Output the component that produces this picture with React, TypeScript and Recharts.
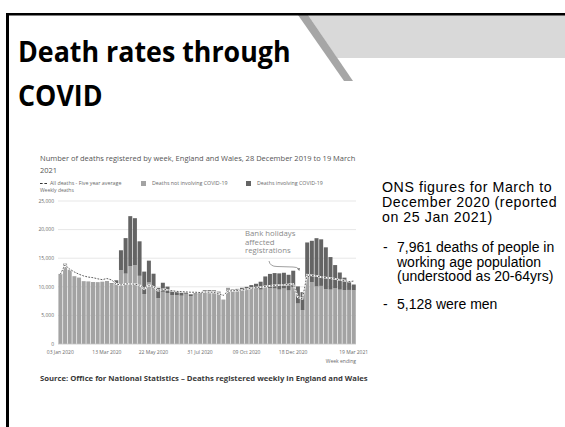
import React from "react";
import {
  ComposedChart,
  Bar,
  Line,
  XAxis,
  YAxis,
  CartesianGrid,
} from "recharts";

// week ending dates, 03 Jan 2020 to 19 Mar 2021
const weeks = [
  "03 Jan 2020", "10 Jan 2020", "17 Jan 2020", "24 Jan 2020", "31 Jan 2020",
  "07 Feb 2020", "14 Feb 2020", "21 Feb 2020", "28 Feb 2020",
  "06 Mar 2020", "13 Mar 2020", "20 Mar 2020", "27 Mar 2020",
  "03 Apr 2020", "10 Apr 2020", "17 Apr 2020", "24 Apr 2020",
  "01 May 2020", "08 May 2020", "15 May 2020", "22 May 2020", "29 May 2020",
  "05 Jun 2020", "12 Jun 2020", "19 Jun 2020", "26 Jun 2020",
  "03 Jul 2020", "10 Jul 2020", "17 Jul 2020", "24 Jul 2020", "31 Jul 2020",
  "07 Aug 2020", "14 Aug 2020", "21 Aug 2020", "28 Aug 2020",
  "04 Sep 2020", "11 Sep 2020", "18 Sep 2020", "25 Sep 2020",
  "02 Oct 2020", "09 Oct 2020", "16 Oct 2020", "23 Oct 2020", "30 Oct 2020",
  "06 Nov 2020", "13 Nov 2020", "20 Nov 2020", "27 Nov 2020",
  "04 Dec 2020", "11 Dec 2020", "18 Dec 2020", "25 Dec 2020",
  "01 Jan 2021", "08 Jan 2021", "15 Jan 2021", "22 Jan 2021", "29 Jan 2021",
  "05 Feb 2021", "12 Feb 2021", "19 Feb 2021", "26 Feb 2021",
  "05 Mar 2021", "12 Mar 2021", "19 Mar 2021",
];

const allDeaths = [
  12254, 14058, 12990, 11856, 11612, 10986, 10944, 10841, 10816, 10895,
  11019, 10645, 11141, 16387, 18516, 22351, 21997, 17953, 12657, 14573,
  12288, 9824, 10709, 10031, 9339, 9140, 8979, 9140, 8690, 8891,
  8946, 9392, 9413, 9380, 9150, 7739, 9811, 9523, 9634, 9828,
  9990, 10300, 10534, 10889, 11812, 12254, 12400, 12347, 12456, 12100,
  12812, 10069, 9069, 17751, 18042, 18500, 18300, 16900, 15200, 13800,
  12500, 11600, 10950, 10400,
];

const covidDeaths = [
  0, 0, 0, 0, 0, 0, 0, 0, 0, 0,
  5, 103, 539, 3475, 6213, 8758, 8237, 6035, 3930, 3810,
  2589, 1822, 1588, 1114, 783, 606, 532, 366, 295, 217,
  193, 152, 139, 138, 101, 78, 99, 139, 215, 321,
  438, 670, 978, 1379, 1937, 2466, 2697, 2835, 2756, 2739,
  2839, 2986, 3144, 6057, 7245, 8433, 8143, 7320, 5691, 4079,
  3000, 2200, 1500, 1000,
];

const fiveYearAverage = [
  12175, 13822, 13100, 12600, 12200, 11900, 11700, 11600, 11400, 11250,
  11450, 11200, 10500, 10305, 10520, 10497, 10458, 10300, 9600, 10300,
  10000, 9300, 9600, 9450, 9300, 9200, 9150, 9100, 9050, 9050,
  9000, 9100, 9050, 9050, 8800, 8500, 9250, 9300, 9350, 9450,
  9600, 9750, 9850, 9950, 10050, 10150, 10250, 10300, 10350, 10400,
  10500, 8200, 7900, 12100, 12000, 11900, 11700, 11600, 11500, 11400,
  11200, 11100, 10900, 11000,
];

const xTicks = [
  "03 Jan 2020", "13 Mar 2020", "22 May 2020", "31 Jul 2020",
  "09 Oct 2020", "18 Dec 2020", "19 Mar 2021",
];
const yTicks = [0, 5000, 10000, 15000, 20000, 25000];

const data = weeks.map((week, i) => ({
  week,
  nonCovid: allDeaths[i] - covidDeaths[i],
  covid: covidDeaths[i],
  average: fiveYearAverage[i],
}));

const LIGHT = "#a3a3a3";
const DARK = "#646464";
const chartFont = "'Open Sans', sans-serif";
const tickStyle = { fontSize: 5, fill: "#6a6a6a", fontFamily: chartFont };

const abs = (left: number, top: number, extra: React.CSSProperties = {}): React.CSSProperties => ({
  position: "absolute",
  left,
  top,
  whiteSpace: "nowrap",
  ...extra,
});

const small: React.CSSProperties = {
  fontFamily: chartFont,
  fontSize: 5.3,
  color: "#6a6a6a",
  lineHeight: "6px",
};

const bodyText: React.CSSProperties = {
  fontFamily: "'Liberation Sans', Arial, sans-serif",
  color: "#000",
  fontSize: 14,
  lineHeight: "14.5px",
};

export default function App() {
  return (
    <div
      style={{
        position: "absolute",
        left: 0,
        top: 0,
        width: 565,
        height: 427,
        overflow: "hidden",
        background: "#fff",
      }}
    >
      {/* slide frame + header band */}
      <svg width={565} height={427} style={{ position: "absolute", left: 0, top: 0 }}>
        <polygon points="308,15 565,15 565,58 337,58" fill="#d9d9d9" />
        <polygon points="298,15 308,15 353,81 344,81" fill="#a6a6a6" />
        <rect x={6} y={13} width={600} height={2.5} fill="#000" />
        <rect x={6} y={13} width={3} height={420} fill="#000" />
      </svg>

      <div
        style={abs(18, 30, {
          fontFamily: "'Open Sans', sans-serif",
          fontWeight: 700,
          fontSize: 26.8,
          lineHeight: "40px",
          color: "#000",
          transform: "scaleY(1.08)",
          transformOrigin: "0 0",
        })}
      >
        Death rates through
        <br />
        COVID
      </div>

      <div style={{ position: "absolute", left: 0, top: 0 }}>
        <ComposedChart
          width={565}
          height={427}
          data={data}
          margin={{ top: 201, right: 209, bottom: 63, left: 28 }}
          barCategoryGap="9%"
        >
          <CartesianGrid vertical={false} stroke="#dcdcdc" strokeWidth={0.7} />
          <XAxis
            dataKey="week"
            ticks={xTicks}
            interval={0}
            height={20}
            tickLine={false}
            axisLine={{ stroke: "#cfcfcf", strokeWidth: 0.6 }}
            tickSize={0}
            tickMargin={6}
            tick={tickStyle}
          />
          <YAxis
            width={30}
            domain={[0, 25000]}
            ticks={yTicks}
            tickFormatter={(v: number) => v.toLocaleString("en-GB")}
            axisLine={false}
            tickLine={false}
            tickSize={0}
            tickMargin={4}
            tick={tickStyle}
          />
          <Bar dataKey="nonCovid" stackId="deaths" fill={LIGHT} isAnimationActive={false} />
          <Bar dataKey="covid" stackId="deaths" fill={DARK} isAnimationActive={false} />
          <Line
            dataKey="average"
            type="linear"
            stroke="#ffffff"
            strokeWidth={1.8}
            dot={false}
            isAnimationActive={false}
          />
          <Line
            dataKey="average"
            type="linear"
            stroke="#333333"
            strokeWidth={0.8}
            strokeDasharray="1.8 1.3"
            dot={false}
            isAnimationActive={false}
          />
        </ComposedChart>
      </div>

      {/* chart heading and legend */}
      <div style={abs(40, 152, { fontFamily: chartFont, fontSize: 7.5, color: "#555", lineHeight: "12px" })}>
        Number of deaths registered by week, England and Wales, 28 December 2019 to 19 March
        <br />
        2021
      </div>
      <div style={abs(40, 180, small)}>
        <span style={{ display: "inline-block", width: 7, borderTop: "1.2px dashed #333", verticalAlign: "middle", marginRight: 3 }} />
        All deaths - Five year average
      </div>
      <div style={abs(141, 180.5, { width: 5, height: 5, background: LIGHT })} />
      <div style={abs(152, 180, small)}>Deaths not involving COVID-19</div>
      <div style={abs(246, 180.5, { width: 5, height: 5, background: DARK })} />
      <div style={abs(257, 180, small)}>Deaths involving COVID-19</div>
      <div style={abs(40, 187, { ...small, fontSize: 5 })}>Weekly deaths</div>

      {/* annotation */}
      <div style={abs(245, 229, { fontFamily: chartFont, fontSize: 7.8, color: "#8a8a8a", lineHeight: "8.5px" })}>
        Bank holidays
        <br />
        affected
        <br />
        registrations
      </div>
      <svg width={565} height={427} style={{ position: "absolute", left: 0, top: 0 }}>
        <path
          d="M269 261 Q270 266.5 277 266.5 L293 267 Q297.5 267 298.5 269"
          fill="none"
          stroke="#777"
          strokeWidth={0.7}
        />
        <polygon points="297,268.5 300,268 299.3,271" fill="#777" />
      </svg>

      <div style={abs(356, 358, { ...small, fontSize: 5, transform: "translateX(-100%)" })}>Week ending</div>
      <div
        style={abs(40, 373, {
          fontFamily: chartFont,
          fontWeight: 700,
          fontSize: 7.7,
          color: "#3a3a3a",
          lineHeight: "10px",
        })}
      >
        Source: Office for National Statistics – Deaths registered weekly in England and Wales
      </div>

      {/* side notes */}
      <div style={abs(382, 179.5, { ...bodyText, fontSize: 14.2, lineHeight: "15px", letterSpacing: 0.55 })}>
        ONS figures for March to
        <br />
        December 2020 (reported
        <br />
        on 25 Jan 2021)
      </div>
      <div style={abs(383, 240, bodyText)}>-</div>
      <div style={abs(397, 240, bodyText)}>
        7,961 deaths of people in
        <br />
        working age population
        <br />
        (understood as 20-64yrs)
      </div>
      <div style={abs(383, 297, bodyText)}>-</div>
      <div style={abs(397, 297, bodyText)}>5,128 were men</div>
    </div>
  );
}
